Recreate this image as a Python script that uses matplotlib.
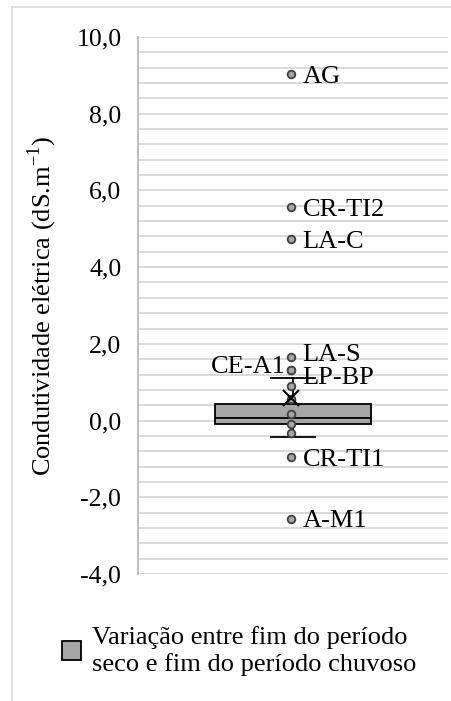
import matplotlib
matplotlib.use("Agg")
import matplotlib.pyplot as plt
from matplotlib.patches import Patch
from matplotlib.ticker import MultipleLocator, FuncFormatter
from matplotlib.lines import Line2D

plt.rcParams['font.family'] = ['Liberation Serif', 'DejaVu Serif']

# labelled sites (variation of electrical conductivity, dS/m)
site_names = ["AG", "CR-TI2", "LA-C", "LA-S", "CE-A1", "LP-BP", "CR-TI1", "A-M1"]
site_values = [9.03, 5.58, 4.73, 1.66, 1.32, 1.32, -0.94, -2.56]

# remaining points drawn inside the box / whiskers
inner_values = [0.90, 0.56, 0.16, -0.08, -0.32]

# box statistics
q1 = -0.10
median = 0.08
q3 = 0.42
whisker_low = -0.44
whisker_high = 1.10
mean_value = 0.58

legend_label = "Variação entre fim do período\nseco e fim do período chuvoso"

# label offsets in pixels (dx, dy) relative to each point
label_offsets = {
    "AG": (11, -9), "CR-TI2": (11, -9), "LA-C": (11, -9), "LA-S": (11, -4),
    "CE-A1": (-6, -3), "LP-BP": (11, -14), "CR-TI1": (11, -9), "A-M1": (11, -8),
}

fig = plt.figure(figsize=(4.52, 7.01), dpi=100)
ax = fig.add_axes([138 / 452, 1 - 574 / 701, 310 / 452, 537 / 701])

grid_color = "#d9d9d9"
point_face = "#a6a6a6"
point_edge = "#404040"

stats = [{
    "med": median, "q1": q1, "q3": q3,
    "whislo": whisker_low, "whishi": whisker_high,
    "mean": mean_value, "fliers": [],
}]
ax.bxp(stats, positions=[1], widths=1.0, patch_artist=True, showmeans=False,
       boxprops=dict(facecolor=point_face, edgecolor="black", linewidth=1.3),
       medianprops=dict(color="black", linewidth=1.3),
       whiskerprops=dict(color="black", linewidth=1.3),
       capprops=dict(color="black", linewidth=1.3), capwidths=0.29)

all_points = site_values + inner_values
ax.plot([0.99] * len(all_points), all_points, "o", ms=5.5, mfc=point_face,
        mec=point_edge, mew=1.3, linestyle="none", zorder=4)
ax.plot([0.99], [mean_value], "x", ms=11, mec="black", mew=1.5, zorder=5)

for name, val in zip(site_names, site_values):
    dx, dy = label_offsets[name]
    ax.annotate(name, (0.99, val), xytext=(dx, dy), textcoords="offset pixels",
                ha="left" if dx > 0 else "right", va="baseline", fontsize=19)

ax.set_ylim(-4, 10)
ax.set_xlim(0, 2)
ax.set_xticks([])
ax.yaxis.set_major_locator(MultipleLocator(2))
ax.yaxis.set_minor_locator(MultipleLocator(0.4))
ax.yaxis.set_major_formatter(FuncFormatter(lambda v, p: f"{v:.1f}".replace(".", ",")))
ax.grid(axis="y", which="both", color=grid_color, linewidth=1.4)
ax.set_axisbelow(True)
ax.tick_params(axis="y", which="both", length=0, labelsize=18.5, pad=12)
for s in ["top", "right", "bottom"]:
    ax.spines[s].set_visible(False)
ax.spines["left"].set_color("#bfbfbf")
ax.spines["left"].set_linewidth(1.4)

ax.set_ylabel("Condutividade elétrica (dS.m$^{\\mathregular{-1}}$)", fontsize=19)
ax.yaxis.set_label_coords(-0.254, 0.5)

# chart border (left and top edges)
fig.add_artist(Line2D([12 / 452, 12 / 452], [0, 1 - 7 / 701], color="#d9d9d9", lw=1.2))
fig.add_artist(Line2D([12 / 452, 1], [1 - 7 / 701, 1 - 7 / 701], color="#d9d9d9", lw=1.2))

fig.legend(handles=[Patch(facecolor=point_face, edgecolor="black", linewidth=1.3)],
           labels=[legend_label], loc="center left",
           bbox_to_anchor=(62 / 452, 1 - 651 / 701), frameon=False,
           fontsize=19, handlelength=0.72, handleheight=0.72, handletextpad=0.4,
           borderpad=0, borderaxespad=0, labelspacing=0)

fig.savefig("out.png", dpi=100)
